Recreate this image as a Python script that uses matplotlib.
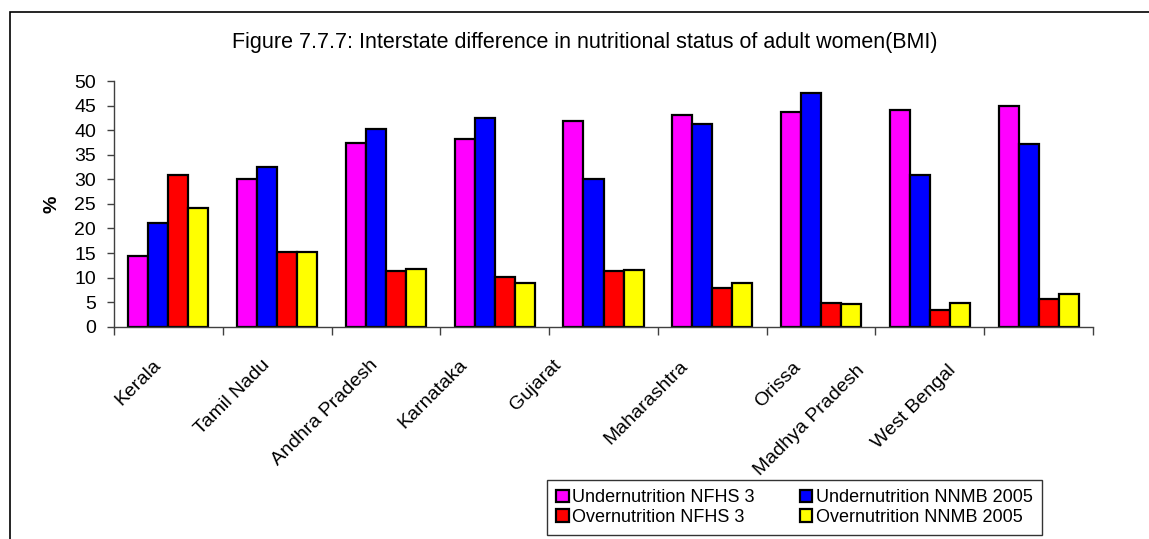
import numpy as np
import matplotlib
matplotlib.use("Agg")
import matplotlib.pyplot as plt
import matplotlib.transforms as mtransforms
from matplotlib.patches import Rectangle

plt.rcParams['font.family'] = ['Liberation Sans', 'DejaVu Sans']

# data
states = ['Kerala', 'Tamil Nadu', 'Andhra Pradesh', 'Karnataka', 'Gujarat',
          'Maharashtra', 'Orissa', 'Madhya Pradesh', 'West Bengal']
under_nfhs = [14.4, 30.0, 37.5, 38.2, 41.8, 43.1, 43.7, 44.1, 44.9]
under_nnmb = [21.1, 32.5, 40.3, 42.4, 30.1, 41.2, 47.5, 30.8, 37.3]
over_nfhs = [30.8, 15.3, 11.3, 10.1, 11.4, 7.9, 4.8, 3.5, 5.7]
over_nnmb = [24.1, 15.3, 11.7, 8.8, 11.6, 8.8, 4.6, 4.8, 6.7]

series = [under_nfhs, under_nnmb, over_nfhs, over_nnmb]
names = ['Undernutrition NFHS 3', 'Undernutrition NNMB 2005',
         'Overnutrition NFHS 3', 'Overnutrition NNMB 2005']
colors = ['#ff00ff', '#0000ff', '#ff0000', '#ffff00']

# the original's rotated labels drift left of their categories (pixel nudges)
label_dx = [0, 0, 0, -20, -35, -17, -13, -58, -75]
label_dy = [0, 0, 0, 0, 0, 2, 2, 6, 6]

fig = plt.figure(figsize=(11.49, 5.39), dpi=100)
ax = fig.add_axes([0.0992, 0.3939, 0.8521, 0.4555])

# outer chart frame (clipped on right and bottom like the original)
fig.patches.append(Rectangle((10 / 1149, -0.1), 1.2, 1 - 12 / 539 + 0.1,
                             transform=fig.transFigure, fill=False,
                             edgecolor='black', linewidth=1.2))

x = np.arange(len(states))
w = 0.184
bars = []
for i, (vals, col, nm) in enumerate(zip(series, colors, names)):
    b = ax.bar(x + (i - 1.5) * w, vals, width=w, color=col, edgecolor='black',
               linewidth=1.6, label=nm)
    bars.append(b)

ax.set_xlim(-0.5, len(states) - 0.5)
ax.set_ylim(0, 50)
ax.set_yticks(np.arange(0, 51, 5))
ax.tick_params(axis='y', labelsize=14, length=5, width=1, color='#404040', pad=8)

# category labels near centres, tick marks at the boundaries
ax.set_xticks(np.arange(-0.5, len(states), 1.0))
ax.set_xticklabels([])
ax.tick_params(axis='x', length=6, width=1, color='#404040')
for xi, s, dx, dy in zip(x, states, label_dx, label_dy):
    off = mtransforms.ScaledTranslation(dx / 100, -dy / 100, fig.dpi_scale_trans)
    ax.text(xi - 0.15, -6.0, s, rotation=45, ha='right', va='top',
            rotation_mode='anchor', fontsize=14, transform=ax.transData + off)

for sp in ['top', 'right']:
    ax.spines[sp].set_visible(False)
for sp in ['left', 'bottom']:
    ax.spines[sp].set_color('#404040')
    ax.spines[sp].set_linewidth(1)

ax.set_ylabel('%', fontsize=14, fontweight='bold', labelpad=10)

fig.text(0.509, 0.922, 'Figure 7.7.7: Interstate difference in nutritional status of adult women(BMI)',
         ha='center', va='center', fontsize=15.5)

# legend: top row undernutrition, bottom row overnutrition
handles = [bars[0], bars[2], bars[1], bars[3]]
labels = [names[0], names[2], names[1], names[3]]
leg = fig.legend(handles, labels, ncol=2, loc='lower right',
                 bbox_to_anchor=(1042 / 1149, 4 / 539), fontsize=13,
                 frameon=True, fancybox=False, edgecolor='black',
                 handlelength=0.7, handleheight=0.7, handletextpad=0.2,
                 columnspacing=2.5, labelspacing=0.15, borderpad=0.5,
                 borderaxespad=0)
leg.get_frame().set_linewidth(1)

fig.savefig('out.png', dpi=100)
